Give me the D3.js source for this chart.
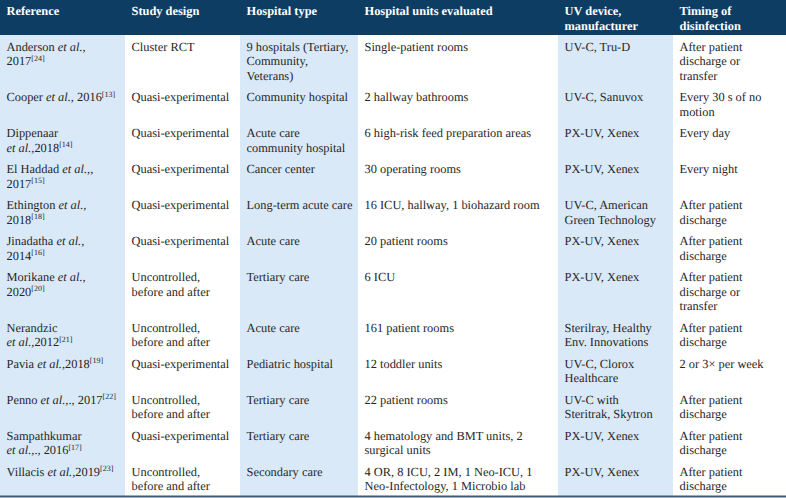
<!DOCTYPE html>
<html>
<head>
<meta charset="utf-8">
<script src="https://cdn.jsdelivr.net/npm/d3@7"></script>
<style>
  html, body { margin: 0; padding: 0; background: #ffffff; }
  svg { display: block; }
  text { text-rendering: geometricPrecision; }
</style>
</head>
<body>
<div id="chart"></div>
<script>
// ---------------- DATA ----------------
const headers = ["Reference", "Study design", "Hospital type", "Hospital units evaluated", "UV device,\nmanufacturer", "Timing of\ndisinfection"];

const references = [
  "Anderson *et al.,*\n2017^24",
  "Cooper *et al.,* 2016^13",
  "Dippenaar\n*et al.,*2018^14",
  "El Haddad *et al.,*,\n2017^15",
  "Ethington *et al.,*\n2018^18",
  "Jinadatha *et al.,*\n2014^16",
  "Morikane *et al.,*\n2020^20",
  "Nerandzic\n*et al.,*2012^21",
  "Pavia *et al.,*2018^19",
  "Penno *et al.,*., 2017^22",
  "Sampathkumar\n*et al.,*., 2016^17",
  "Villacis *et al.,*2019^23"
];

const studyDesigns = [
  "Cluster RCT", "Quasi-experimental", "Quasi-experimental", "Quasi-experimental",
  "Quasi-experimental", "Quasi-experimental", "Uncontrolled,\nbefore and after",
  "Uncontrolled,\nbefore and after", "Quasi-experimental", "Uncontrolled,\nbefore and after",
  "Quasi-experimental", "Uncontrolled,\nbefore and after"
];

const hospitalTypes = [
  "9 hospitals (Tertiary,\nCommunity,\nVeterans)", "Community hospital", "Acute care\ncommunity hospital",
  "Cancer center", "Long-term acute care", "Acute care", "Tertiary care", "Acute care",
  "Pediatric hospital", "Tertiary care", "Tertiary care", "Secondary care"
];

const hospitalUnits = [
  "Single-patient rooms", "2 hallway bathrooms", "6 high-risk feed preparation areas",
  "30 operating rooms", "16 ICU, hallway, 1 biohazard room", "20 patient rooms", "6 ICU",
  "161 patient rooms", "12 toddler units", "22 patient rooms",
  "4 hematology and BMT units, 2\nsurgical units",
  "4 OR, 8 ICU, 2 IM, 1 Neo-ICU, 1\nNeo-Infectology, 1 Microbio lab"
];

const uvDevices = [
  "UV-C, Tru-D", "UV-C, Sanuvox", "PX-UV, Xenex", "PX-UV, Xenex",
  "UV-C, American\nGreen Technology", "PX-UV, Xenex", "PX-UV, Xenex",
  "Sterilray, Healthy\nEnv. Innovations", "UV-C, Clorox\nHealthcare",
  "UV-C with\nSteritrak, Skytron", "PX-UV, Xenex", "PX-UV, Xenex"
];

const timings = [
  "After patient\ndischarge or\ntransfer", "Every 30 s of no\nmotion", "Every day", "Every night",
  "After patient\ndischarge", "After patient\ndischarge", "After patient\ndischarge or\ntransfer",
  "After patient\ndischarge", "2 or 3\u00d7 per week", "After patient\ndischarge",
  "After patient\ndischarge", "After patient\ndischarge"
];

// ---------------- LAYOUT ----------------
const W = 786, H = 498;
const colEdges = [0, 125, 240, 358, 558, 673, 786];
const headerH = 35;
const lineH = 14.5;
const rowPad = 7;
const firstBase = 15.7;
const padX = 6.5;
const fontSize = 12.4;
const font = "'Liberation Serif', 'Times New Roman', Times, serif";
const navy = "#0d3d62";
const lightBlue = "#dae9f8";
const textColor = "#262626";

const columns = [references, studyDesigns, hospitalTypes, hospitalUnits, uvDevices, timings];
const nRows = references.length;

const rows = d3.range(nRows).map(i => columns.map(c => c[i]));
const rowLines = rows.map(r => d3.max(r, t => t.split("\n").length));
const rowHeights = rowLines.map(n => n * lineH + rowPad);
const rowTops = [];
rowHeights.reduce((acc, h, i) => { rowTops[i] = acc; return acc + h; }, headerH);
const tableBottom = rowTops[nRows - 1] + rowHeights[nRows - 1];

const x = d3.scaleOrdinal().domain(d3.range(headers.length)).range(colEdges.slice(0, -1));
const colW = i => colEdges[i + 1] - colEdges[i];

const svg = d3.select("#chart").append("svg")
  .attr("width", W).attr("height", H)
  .attr("font-family", font);

// column stripes
svg.append("g").selectAll("rect")
  .data(d3.range(headers.length).filter(i => i % 2 === 0))
  .join("rect")
  .attr("x", i => x(i)).attr("y", headerH)
  .attr("width", i => colW(i)).attr("height", tableBottom - headerH)
  .attr("fill", lightBlue);

// header band
svg.append("rect").attr("x", 0).attr("y", 0).attr("width", W).attr("height", headerH).attr("fill", navy);

// bottom border
svg.append("rect").attr("x", 0).attr("y", tableBottom - 0.5).attr("width", W).attr("height", 2)
  .attr("fill", "#3e5b76");

// markup parser
function tokens(line) {
  const re = /(\*[^*]+\*|\^\d+|[^*^]+)/g;
  const out = [];
  let m;
  while ((m = re.exec(line)) !== null) {
    const s = m[0];
    if (s[0] === "*") out.push({ t: s.slice(1, -1), style: "italic" });
    else if (s[0] === "^") out.push({ t: "[" + s.slice(1) + "]", style: "sup" });
    else out.push({ t: s, style: "normal" });
  }
  return out;
}

function drawCell(g, text, cx, cy, opts) {
  const lines = text.split("\n");
  lines.forEach((ln, li) => {
    const t = g.append("text")
      .attr("x", cx).attr("y", cy + li * lineH)
      .attr("font-size", fontSize)
      .attr("fill", opts.fill)
      .attr("font-weight", opts.bold ? "bold" : "normal");
    let raised = false;
    tokens(ln).forEach(tok => {
      const ts = t.append("tspan").text(tok.t);
      if (tok.style === "italic") ts.attr("font-style", "italic");
      if (tok.style === "sup") {
        ts.attr("font-size", 8).attr("dy", -4.5);
        raised = true;
      } else if (raised) {
        ts.attr("dy", 4.5);
        raised = false;
      }
    });
  });
}

// header text
const hg = svg.append("g");
headers.forEach((h, ci) => drawCell(hg, h, x(ci) + padX, firstBase - 0.7, { fill: "#ffffff", bold: true }));

// body text
const bg = svg.append("g");
rows.forEach((r, ri) => {
  r.forEach((cell, ci) => drawCell(bg, cell, x(ci) + padX, rowTops[ri] + firstBase, { fill: textColor, bold: false }));
});
</script>
</body>
</html>
